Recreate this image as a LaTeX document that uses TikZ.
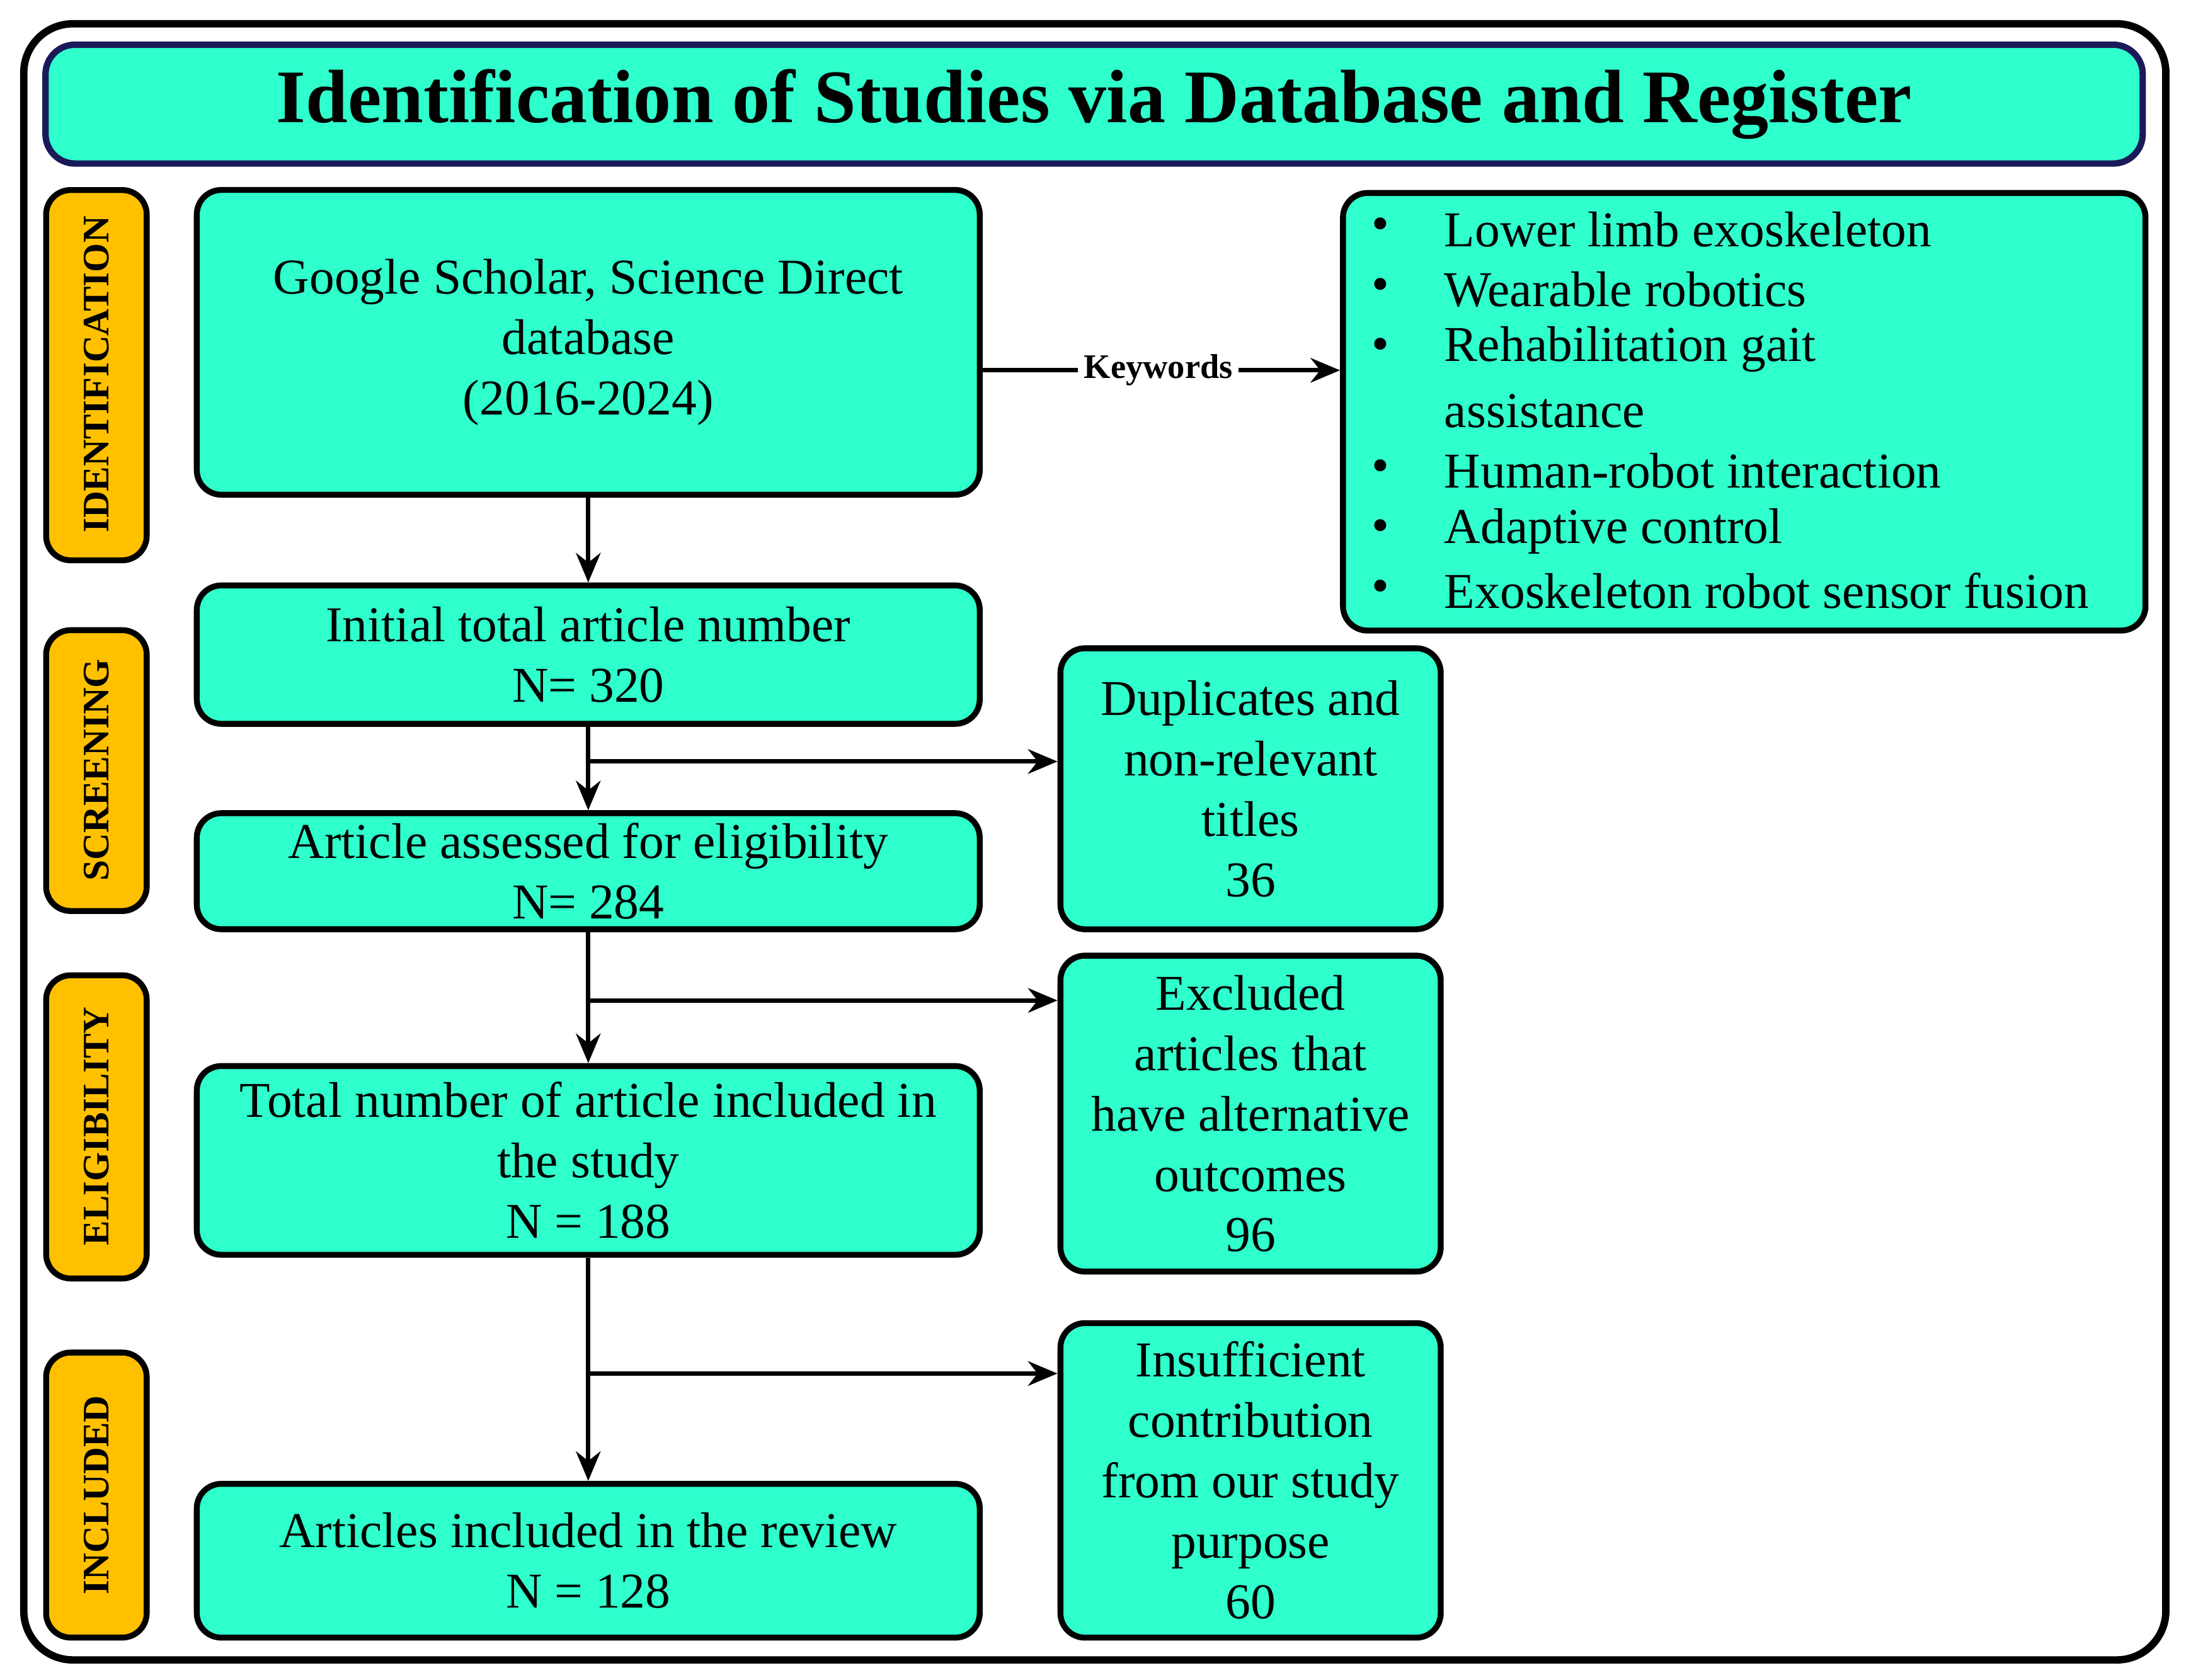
\documentclass[tikz,border=0pt]{standalone}
\usepackage{fontspec}
\setmainfont{Liberation Serif}
\usetikzlibrary{arrows.meta}
\definecolor{cy}{HTML}{2EFFCC}
\definecolor{og}{HTML}{FFC000}
\definecolor{nv}{HTML}{1A1A5A}
\begin{document}
\begin{tikzpicture}[x=0.01cm,y=-0.01cm,
 box/.style={draw=black,line width=1.2pt,fill=cy,rounded corners=5pt,align=center,font=\fontsize{10.2}{12.3}\selectfont,inner sep=0pt},
 side/.style={draw=black,line width=1.2pt,fill=og,rounded corners=5pt},
 lab/.style={rotate=90,font=\bfseries\fontsize{7.6}{9}\selectfont},
 arr/.style={line width=0.9pt,-{Stealth[length=6pt,width=5pt]}}]
\useasboundingbox (0,0) rectangle (1568,1202);
\draw[line width=1.5pt,rounded corners=10pt] (17,17) rectangle (1550,1188);
\node[draw=nv,line width=1.3pt,fill=cy,rounded corners=6pt,minimum width=15cm,minimum height=0.85cm,font=\bfseries\fontsize{15.4}{17}\selectfont] (t) at (783,74.5) {Identification of Studies via Database and Register};
% side labels
\draw[side] (33,136) rectangle (105,401); \node[lab] (l1) at (69,268) {IDENTIFICATION};
\draw[side] (33,451) rectangle (105,652); \node[lab] (l2) at (69,551) {SCREENING};
\draw[side] (33,698) rectangle (105,915); \node[lab] (l3) at (69,806) {ELIGIBILITY};
\draw[side] (33,968) rectangle (105,1172); \node[lab] (l4) at (69,1070) {INCLUDED};
% main boxes
\node[box,minimum width=5.6cm,minimum height=2.18cm] (a) at (421,245) {Google Scholar, Science Direct\\database\\(2016-2024)};
\node[box,minimum width=5.6cm,minimum height=0.99cm] (b) at (421,468.5) {Initial total article number\\N= 320};
\node[box,minimum width=5.6cm,minimum height=0.83cm] (c) at (421,623.5) {Article assessed for eligibility\\N= 284};
\node[box,minimum width=5.6cm,minimum height=1.35cm] (d) at (421,830.5) {Total number of article included in\\the study\\N = 188};
\node[box,minimum width=5.6cm,minimum height=1.1cm] (e) at (421,1117) {Articles included in the review\\N = 128};
\node[box,minimum width=2.72cm,minimum height=2.01cm] (r1) at (895,564.5) {Duplicates and\\non-relevant\\titles\\36};
\node[box,minimum width=2.72cm,minimum height=2.26cm] (r2) at (895,797) {Excluded\\articles that\\have alternative\\outcomes\\96};
\node[box,minimum width=2.72cm,minimum height=2.25cm] (r3) at (895,1059.5) {Insufficient\\contribution\\from our study\\purpose\\60};
\node[box,minimum width=5.74cm,minimum height=3.13cm,anchor=north west] (k) at (959,136) {};
\foreach \t/\y in {Lower limb exoskeleton/164,Wearable robotics/207,Rehabilitation gait/250,assistance/294,Human-robot interaction/337,Adaptive control/380,Exoskeleton robot sensor fusion/423}
  \node[anchor=west,font=\fontsize{10.2}{12.3}\selectfont,inner sep=0pt] at (1033,\y) {\t};
\foreach \y in {164,207,250,337,380,423}
  \node[font=\fontsize{10.2}{12.3}\selectfont,inner sep=0pt] at (988,\y) {•};
% connectors
\draw[arr] (a.south) -- (b.north);
\node[font=\bfseries\fontsize{7}{8}\selectfont,inner sep=1pt] (kw) at (829,265) {Keywords};
\draw[line width=0.9pt] (a.east|-kw) -- (kw.west);
\draw[arr] (kw.east) -- (k.west|-kw.east);
\draw[arr] (b.south) -- (c.north);
\coordinate (j1) at (421,545);
\draw[arr] (j1) -- (r1.west|-j1);
\draw[arr] (c.south) -- (d.north);
\coordinate (j2) at (421,716);
\draw[arr] (j2) -- (r2.west|-j2);
\draw[arr] (d.south) -- (e.north);
\coordinate (j3) at (421,983);
\draw[arr] (j3) -- (r3.west|-j3);
\end{tikzpicture}
\end{document}
